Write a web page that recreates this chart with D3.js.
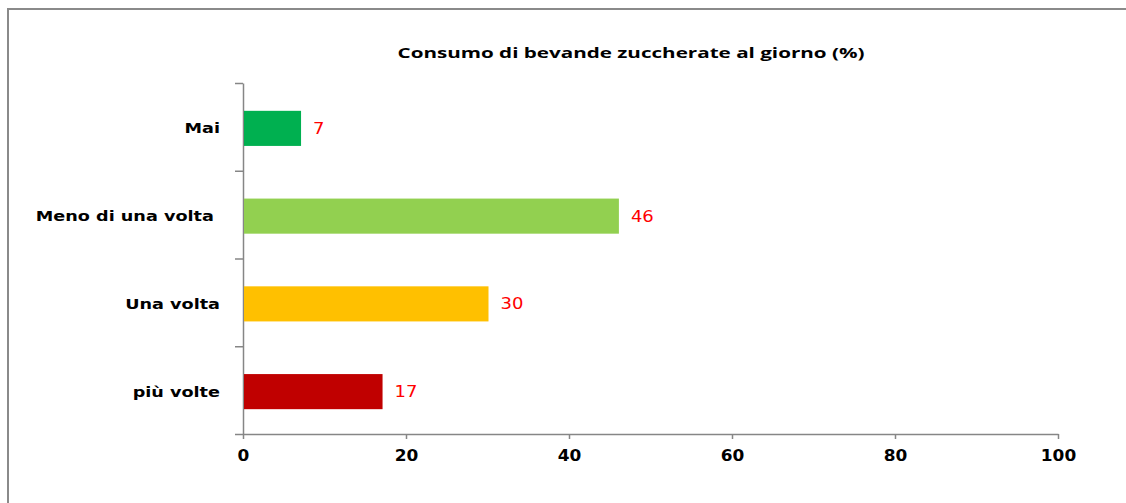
<!DOCTYPE html>
<html>
<head>
<meta charset="utf-8">
<script src="https://cdn.jsdelivr.net/npm/d3@7"></script>
<style>
  body { margin: 0; background: #fff; }
  #chart { width: 1126px; height: 503px; }
  .axis path, .axis line { stroke: #868686; stroke-width: 1.5px; }
</style>
</head>
<body>
<div id="chart"></div>
<script>
// data
const categories = ["Mai", "Meno di una volta ", "Una volta", "più volte"];
const values = [7, 46, 30, 17];
const barColors = ["#00B050", "#92D050", "#FFC000", "#C00000"];
const xTicks = [0, 20, 40, 60, 80, 100];
const chartTitle = "Consumo di bevande zuccherate al giorno (%)";

const data = categories.map((c, i) => ({ cat: c, value: values[i], color: barColors[i] }));

const margin = {top: 83, right: 68, bottom: 69, left: 243};
const fullW = 1126, fullH = 503;
const width = fullW - margin.left - margin.right;   // 815
const height = fullH - margin.top - margin.bottom;  // 351

// the original picture is stretched sideways, so the text is too
const stretch = 1.26;

const svg = d3.select("#chart").append("svg")
    .attr("width", fullW)
    .attr("height", fullH);

// outer frame (right and bottom sides fall outside the picture)
svg.append("rect")
    .attr("x", 8).attr("y", 9)
    .attr("width", 1200).attr("height", 600)
    .attr("fill", "none")
    .attr("stroke", "#8a8a8a")
    .attr("stroke-width", 2);

// clip for the tick labels, which are cut at the bottom in the original
svg.append("clipPath").attr("id", "cut")
    .append("rect").attr("x", 0).attr("y", 0).attr("width", fullW).attr("height", 461);

svg.append("text")
    .attr("x", 631)
    .attr("y", 58)
    .attr("text-anchor", "middle")
    .attr("font-family", "'Open Sans', sans-serif")
    .attr("font-weight", "bold")
    .attr("font-size", "15px")
    .attr("textLength", 467)
    .attr("lengthAdjust", "spacingAndGlyphs")
    .text(chartTitle);

const g = svg.append("g")
    .attr("transform", "translate(" + margin.left + "," + margin.top + ")");

const x = d3.scaleLinear()
    .domain([0, 100])
    .range([0, width]);

const y = d3.scaleBand()
    .domain(categories)
    .range([0, height])
    .paddingInner(0.6)
    .paddingOuter(0.3);

// category separators on the vertical axis
const ySep = d3.scaleLinear()
    .domain([0, categories.length])
    .range([0, height]);

const yAxis = d3.axisLeft(ySep)
    .ticks(categories.length)
    .tickSize(8)
    .tickSizeOuter(0)
    .tickFormat("");

g.append("g")
    .attr("class", "axis y-axis")
    .call(yAxis);

const xAxis = d3.axisBottom(x)
    .tickValues(xTicks)
    .tickSize(5)
    .tickSizeOuter(0)
    .tickPadding(11);

const xg = svg.append("g")
    .attr("clip-path", "url(#cut)")
    .append("g")
    .attr("class", "axis x-axis")
    .attr("transform", "translate(" + margin.left + "," + (margin.top + height) + ")")
    .call(xAxis);

xg.selectAll("text")
    .attr("font-family", "'DejaVu Sans', sans-serif")
    .attr("font-weight", "bold")
    .attr("font-size", "15px")
    .attr("fill", "#000")
    .attr("transform", "scale(1.13,1)");

// bars
g.selectAll(".bar")
    .data(data)
    .enter()
    .append("rect")
    .attr("class", "bar")
    .attr("x", x(0) + 1)
    .attr("y", d => y(d.cat) + 1.5)
    .attr("width", d => x(d.value) - x(0))
    .attr("height", y.bandwidth())
    .attr("fill", d => d.color);

// value labels
g.selectAll(".val")
    .data(data)
    .enter()
    .append("text")
    .attr("class", "val")
    .attr("transform", d => "translate(" + (x(d.value) + 13) + "," + (y(d.cat) + 1.5 + y.bandwidth() / 2) + ") scale(1.2,1)")
    .attr("dy", "0.36em")
    .attr("font-family", "'DejaVu Sans', sans-serif")
    .attr("font-size", "15px")
    .attr("fill", "#FF0000")
    .text(d => d.value);

// category labels
g.selectAll(".cat")
    .data(data)
    .enter()
    .append("text")
    .attr("class", "cat")
    .attr("transform", d => "translate(-23," + (y(d.cat) + 1.5 + y.bandwidth() / 2) + ") scale(" + stretch + ",1)")
    .attr("dy", "0.36em")
    .attr("text-anchor", "end")
    .style("white-space", "pre")
    .attr("font-family", "'DejaVu Sans', sans-serif")
    .attr("font-weight", "bold")
    .attr("font-size", "14px")
    .attr("fill", "#000")
    .text(d => d.cat);
</script>
</body>
</html>
